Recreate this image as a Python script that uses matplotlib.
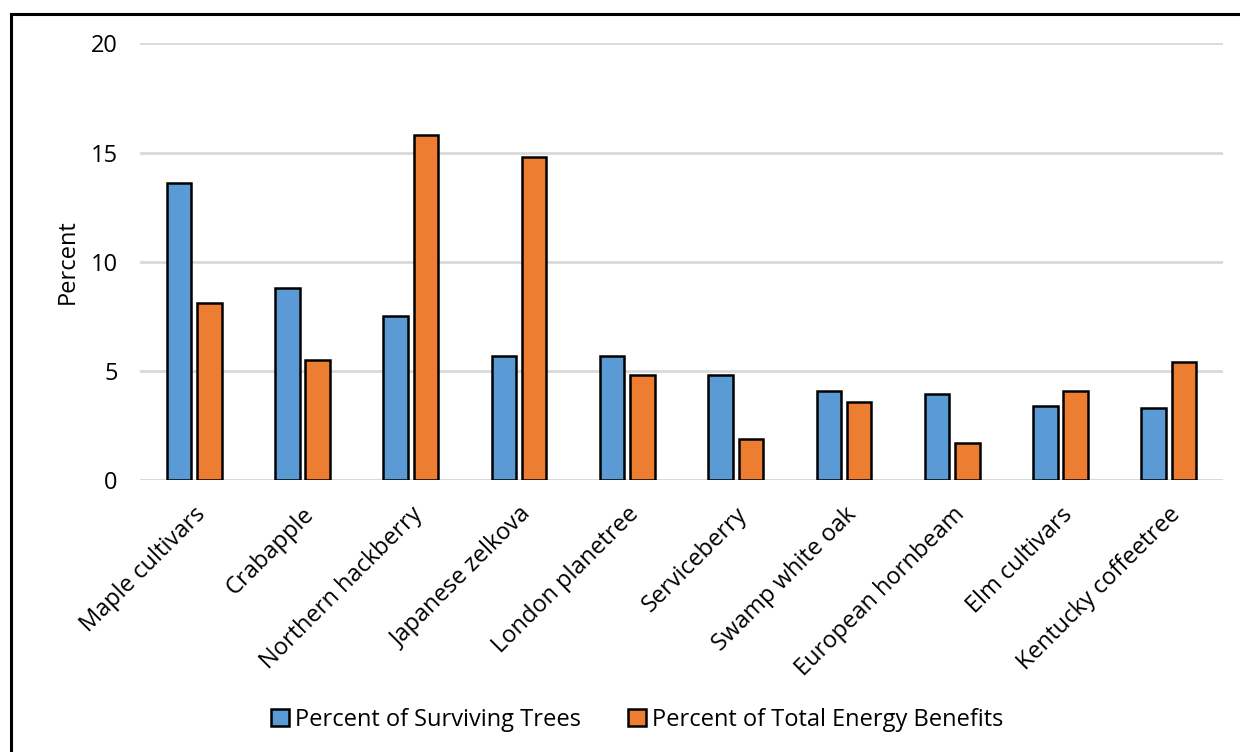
import matplotlib
matplotlib.use("Agg")
import matplotlib.pyplot as plt
import numpy as np
from matplotlib.patches import Rectangle

species = ["Maple cultivars", "Crabapple", "Northern hackberry", "Japanese zelkova",
           "London planetree", "Serviceberry", "Swamp white oak", "European hornbeam",
           "Elm cultivars", "Kentucky coffeetree"]
surviving = [13.6, 8.8, 7.5, 5.7, 5.7, 4.8, 4.1, 3.95, 3.4, 3.3]
energy = [8.1, 5.5, 15.8, 14.8, 4.8, 1.9, 3.6, 1.7, 4.1, 5.4]
series_names = ["Percent of Surviving Trees", "Percent of Total Energy Benefits"]
yticks = [0, 5, 10, 15, 20]

plt.rcParams['font.family'] = ['Open Sans', 'DejaVu Sans']
FS = 17

fig = plt.figure(figsize=(12.4, 7.52), dpi=100)
ax = fig.add_axes([0.1129, 0.3613, 0.8734, 0.5811])

x = np.arange(len(species))
w = 0.226
off = 0.14
b1 = ax.bar(x - off, surviving, w, color="#5b9bd5", edgecolor="black", linewidth=1.8,
            label=series_names[0], zorder=3)
b2 = ax.bar(x + off, energy, w, color="#ed7d31", edgecolor="black", linewidth=1.8,
            label=series_names[1], zorder=3)

ax.set_xlim(-0.5, len(species) - 0.5)
ax.set_ylim(0, 20)
ax.set_yticks(yticks)
ax.set_yticklabels([str(t) for t in yticks], fontsize=FS)
ax.yaxis.grid(True, color="#d9d9d9", linewidth=2, zorder=0)
ax.set_axisbelow(True)
for s in ax.spines.values():
    s.set_visible(False)
ax.tick_params(axis="both", length=0)
ax.tick_params(axis="y", pad=16)
ax.axhline(0, color="#d9d9d9", linewidth=2, zorder=1)

ax.set_xticks(x)
ax.set_xticklabels(species, rotation=45, ha="right", rotation_mode="anchor", fontsize=FS)
ax.tick_params(axis="x", pad=16)

ax.set_ylabel("Percent", fontsize=FS, labelpad=8)

fig.legend(handles=[b1, b2], labels=series_names, loc="center", bbox_to_anchor=(0.514, 0.043),
           ncol=2, frameon=False, fontsize=FS, handlelength=0.75, handleheight=0.75,
           handletextpad=0.25, columnspacing=2.0)

# outer frame
fig.patches.append(Rectangle((11 / 1240, -0.05), 1.2, 1 - 14 / 752 + 0.05,
                             transform=fig.transFigure, fill=False, edgecolor="black",
                             linewidth=2.2))

fig.savefig("out.png", dpi=100)
